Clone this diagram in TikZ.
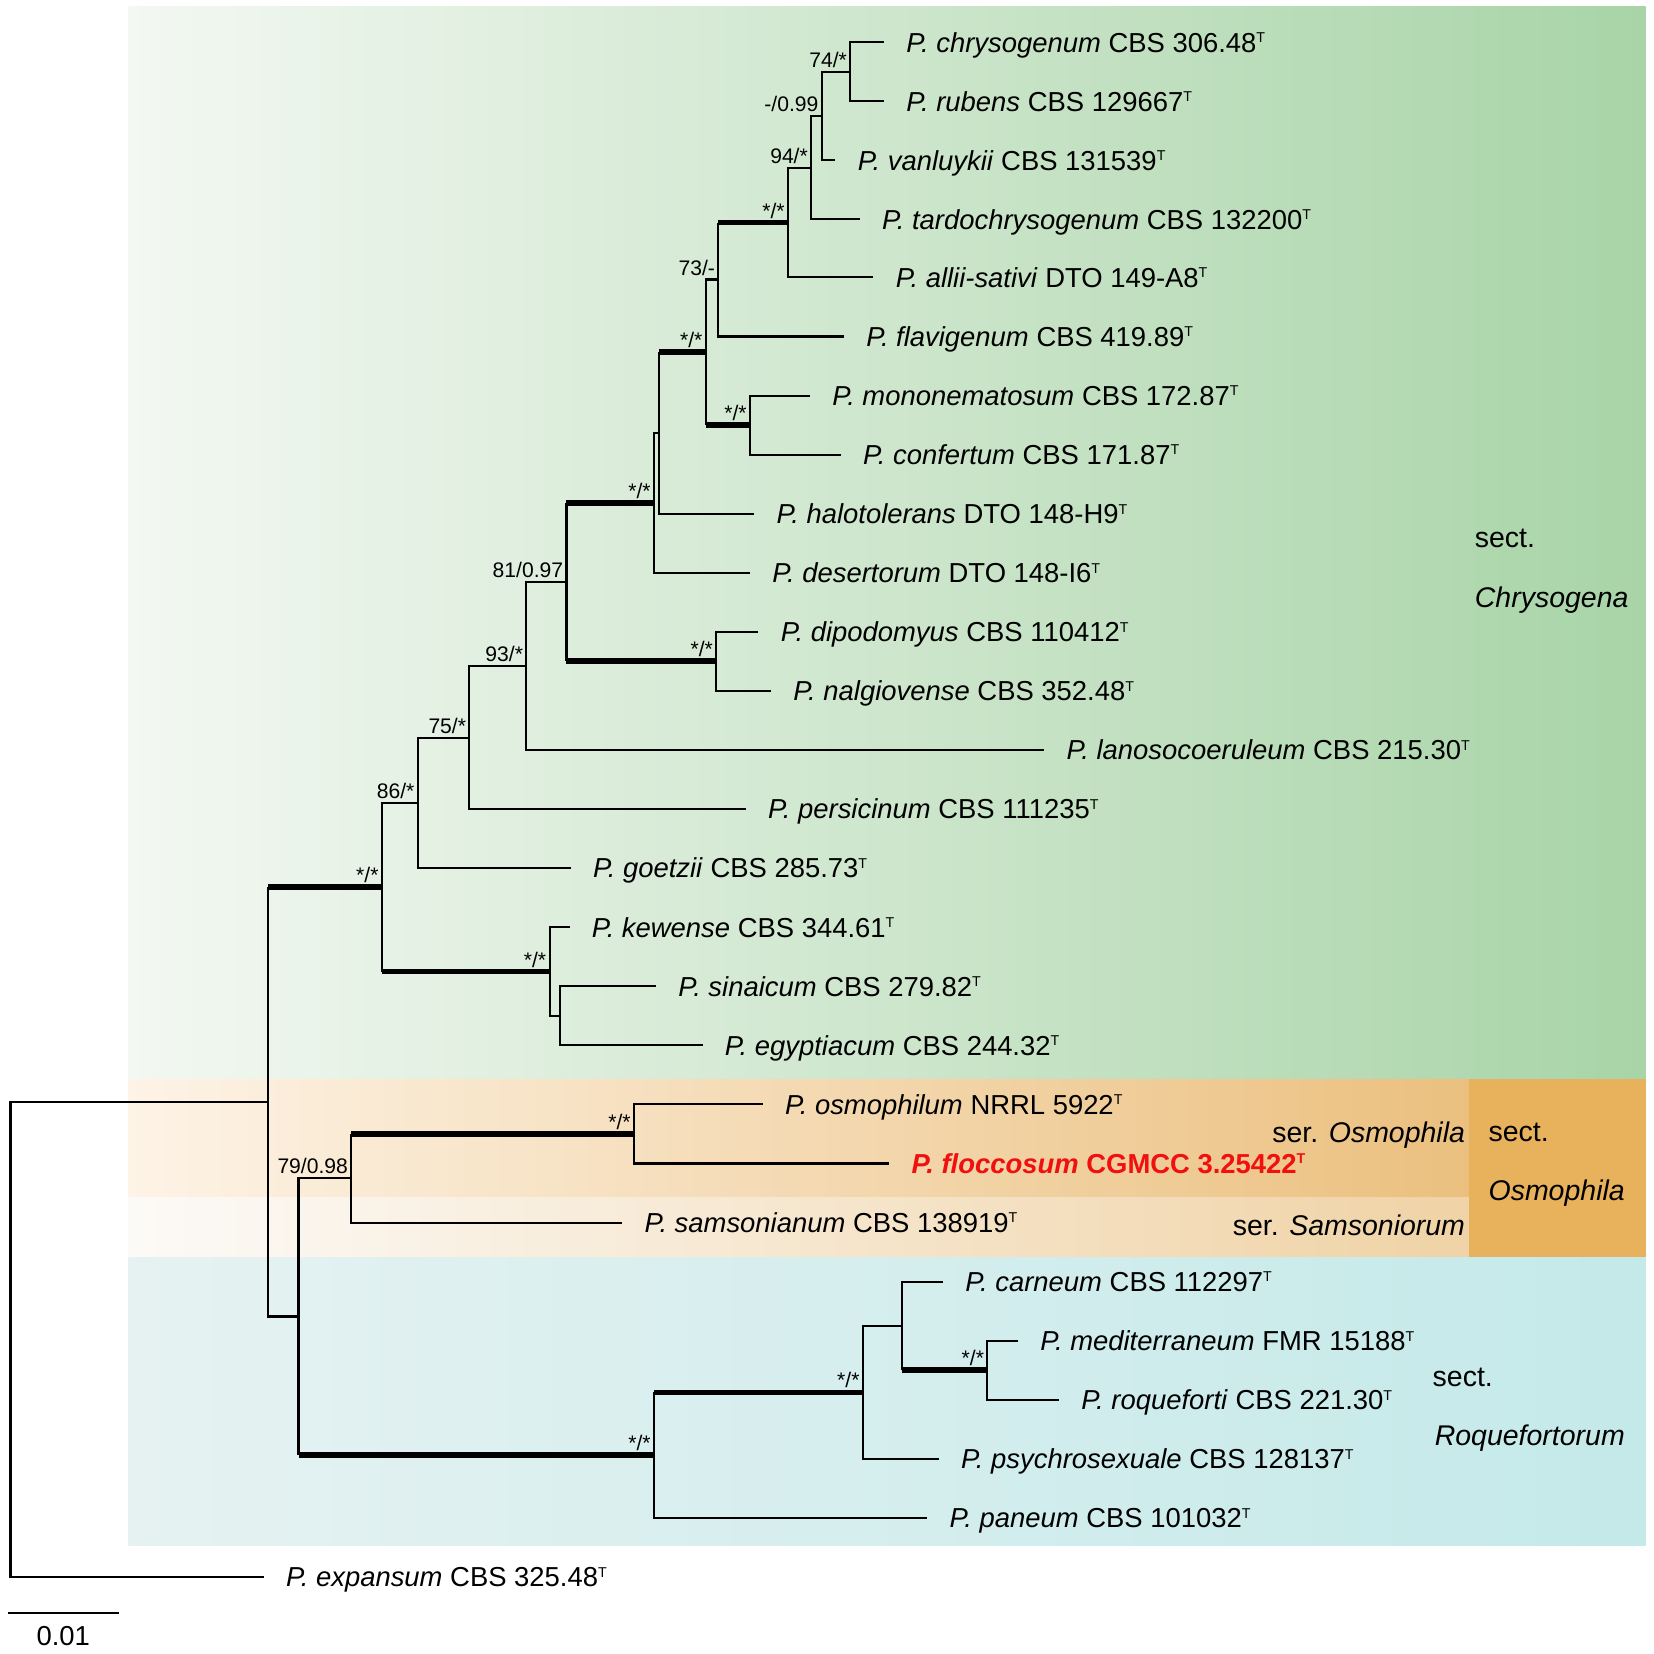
\documentclass[tikz,border=0pt]{standalone}
\usepackage{fontspec}
\setmainfont{Liberation Sans}
\usepackage{tikz}
\definecolor{chrysoL}{HTML}{F3F8F2}
\definecolor{chrysoR}{HTML}{A8D4A7}
\definecolor{osmoL}{HTML}{FDF3E6}
\definecolor{osmoR}{HTML}{EBC07F}
\definecolor{samsL}{HTML}{FCFAF7}
\definecolor{samsR}{HTML}{F0D3A6}
\definecolor{osmoSect}{HTML}{E8B25D}
\definecolor{roqL}{HTML}{E6F2F2}
\definecolor{roqR}{HTML}{C4E9E9}
\definecolor{newsp}{HTML}{F01010}
\tikzset{
% Branches: thin, and bold for the strongly supported ones
branch/.style={line width=2pt},
strong branch/.style={line width=5.5pt},
% Taxa at the tips, support values at the nodes, section names
leaf/.style={anchor=west,inner xsep=21pt,inner ysep=0pt,text height=18.6pt,text depth=0pt,font=\fontsize{26}{30}\selectfont},
support/.style={anchor=south east,inner xsep=3pt,inner ysep=4pt,text depth=0pt,font=\fontsize{20}{24}\selectfont},
section/.style={anchor=base west,inner sep=0pt,font=\fontsize{27}{32}\selectfont}
}
\newcommand{\typ}{\raisebox{9pt}{\fontsize{13.5}{13.5}\selectfont T}}
\newcommand{\taxon}[2]{\textit{P. #1} #2\typ}
\newcommand{\branchto}[2]{\draw[branch] (#1) |- (#2);}
\newcommand{\strongbranchto}[2]{\draw[branch] (#1) -- (#1 |- #2); \draw[strong branch] (#1 |- #2) -- (#2);}

\begin{document}
\begin{tikzpicture}[x=1pt,y=-1pt]
\useasboundingbox (0,0) rectangle (1568,1568);
% Sections
\shade[left color=chrysoL,right color=chrysoR] (122,6) rectangle (1560,1023);
\shade[left color=osmoL,right color=osmoR] (122,1023) rectangle (1393,1135);
\shade[left color=samsL,right color=samsR] (122,1135) rectangle (1393,1192);
\fill[osmoSect] (1393,1023) rectangle (1560,1192);
\shade[left color=roqL,right color=roqR] (122,1192) rectangle (1560,1465);
% Internal nodes
\coordinate (n74) at (806,68);
\coordinate (n099) at (779,110);
\coordinate (n94) at (769,159);
\coordinate (s1) at (747,211);
\coordinate (n73) at (681,265);
\coordinate (s3) at (711,403);
\coordinate (s2) at (669,334);
\coordinate (nA) at (625,410.5);
\coordinate (s4) at (620,476.8);
\coordinate (s5) at (679,627);
\coordinate (n81) at (537,551.9);
\coordinate (n93) at (499,631.4);
\coordinate (n75) at (445,699.2);
\coordinate (n86) at (396,761.1);
\coordinate (nB) at (531,963);
\coordinate (s7) at (521,921);
\coordinate (s6) at (362,841);
\coordinate (s9) at (601,1075);
\coordinate (n79) at (333,1117);
\coordinate (s11) at (936,1299);
\coordinate (nC) at (855,1257);
\coordinate (s10) at (818,1320);
\coordinate (s8) at (620,1379.5);
\coordinate (nR) at (283,1248);
\coordinate (nM) at (254,1044.6);
\coordinate (root) at (10,1270);
% Tips
\node[leaf] (chr) at (838,40) {\taxon{chrysogenum}{CBS 306.48}};
\node[leaf] (rub) at (838,96) {\taxon{rubens}{CBS 129667}};
\node[leaf] (van) at (792,152) {\taxon{vanluykii}{CBS 131539}};
\node[leaf] (tar) at (815,208) {\taxon{tardochrysogenum}{CBS 132200}};
\node[leaf] (all) at (828,263) {\taxon{allii-sativi}{DTO 149-A8}};
\node[leaf] (fla) at (800,319) {\taxon{flavigenum}{CBS 419.89}};
\node[leaf] (mon) at (768,375) {\taxon{mononematosum}{CBS 172.87}};
\node[leaf] (con) at (797,431) {\taxon{confertum}{CBS 171.87}};
\node[leaf] (hal) at (715,487) {\taxon{halotolerans}{DTO 148-H9}};
\node[leaf] (des) at (711,543) {\taxon{desertorum}{DTO 148-I6}};
\node[leaf] (dip) at (719,599) {\taxon{dipodomyus}{CBS 110412}};
\node[leaf] (nal) at (731,655) {\taxon{nalgiovense}{CBS 352.48}};
\node[leaf] (lan) at (990,711) {\taxon{lanosocoeruleum}{CBS 215.30}};
\node[leaf] (per) at (707,767) {\taxon{persicinum}{CBS 111235}};
\node[leaf] (goe) at (541,823) {\taxon{goetzii}{CBS 285.73}};
\node[leaf] (kew) at (540,879) {\taxon{kewense}{CBS 344.61}};
\node[leaf] (sin) at (622,935) {\taxon{sinaicum}{CBS 279.82}};
\node[leaf] (egy) at (666,991) {\taxon{egyptiacum}{CBS 244.32}};
\node[leaf] (osm) at (723,1047) {\taxon{osmophilum}{NRRL 5922}};
\node[leaf,text=newsp,font=\fontsize{26}{30}\selectfont\bfseries] (flo) at (843,1103) {\taxon{floccosum}{CGMCC 3.25422}};
\node[leaf] (sam) at (590,1159) {\taxon{samsonianum}{CBS 138919}};
\node[leaf] (car) at (894,1215) {\taxon{carneum}{CBS 112297}};
\node[leaf] (med) at (965,1271) {\taxon{mediterraneum}{FMR 15188}};
\node[leaf] (roq) at (1004,1327) {\taxon{roqueforti}{CBS 221.30}};
\node[leaf] (psy) at (890,1383) {\taxon{psychrosexuale}{CBS 128137}};
\node[leaf] (pan) at (879,1439) {\taxon{paneum}{CBS 101032}};
\node[leaf] (exp) at (250,1495) {\taxon{expansum}{CBS 325.48}};
% The tree
\branchto{n74}{chr} \branchto{n74}{rub}
\branchto{n099}{n74} \branchto{n099}{van}
\branchto{n94}{n099} \branchto{n94}{tar}
\branchto{s1}{n94} \branchto{s1}{all}
\strongbranchto{n73}{s1} \branchto{n73}{fla}
\branchto{s2}{n73} \strongbranchto{s2}{s3}
\branchto{s3}{mon} \branchto{s3}{con}
\strongbranchto{nA}{s2} \branchto{nA}{hal}
\branchto{s4}{nA} \branchto{s4}{des}
\branchto{s5}{dip} \branchto{s5}{nal}
\strongbranchto{n81}{s4} \strongbranchto{n81}{s5}
\branchto{n93}{n81} \branchto{n93}{lan}
\branchto{n75}{n93} \branchto{n75}{per}
\branchto{n86}{n75} \branchto{n86}{goe}
\branchto{s6}{n86} \strongbranchto{s6}{s7}
\branchto{s7}{kew} \branchto{s7}{nB}
\branchto{nB}{sin} \branchto{nB}{egy}
\strongbranchto{nM}{s6} \branchto{nM}{nR}
\branchto{nR}{n79} \strongbranchto{nR}{s8}
\strongbranchto{n79}{s9} \branchto{n79}{sam}
\branchto{s9}{osm} \branchto{s9}{flo}
\strongbranchto{s8}{s10} \branchto{s8}{pan}
\branchto{s10}{nC} \branchto{s10}{psy}
\branchto{nC}{car} \strongbranchto{nC}{s11}
\branchto{s11}{med} \branchto{s11}{roq}
\branchto{root}{nM} \branchto{root}{exp}
% Support values (ML bootstrap / posterior probability)
\node[support] (b74) at (n74) {74/*};
\node[support] (b099) at (n099) {-/0.99};
\node[support] (b94) at (n94) {94/*};
\node[support] (bs1) at (s1) {*/*};
\node[support] (b73) at (n73) {73/-};
\node[support] (bs2) at (s2) {*/*};
\node[support] (bs3) at (s3) {*/*};
\node[support] (bs4) at (s4) {*/*};
\node[support] (bs5) at (s5) {*/*};
\node[support] (b81) at (n81) {81/0.97};
\node[support] (b93) at (n93) {93/*};
\node[support] (b75) at (n75) {75/*};
\node[support] (b86) at (n86) {86/*};
\node[support] (bs6) at (s6) {*/*};
\node[support] (bs7) at (s7) {*/*};
\node[support] (b79) at (n79) {79/0.98};
\node[support] (bs9) at (s9) {*/*};
\node[support] (bs8) at (s8) {*/*};
\node[support] (bs10) at (s10) {*/*};
\node[support] (bs11) at (s11) {*/*};
% Section and series names
\node[section] (chs1) at (1398,519) {sect.};
\node[section] (chs2) at (1398,576) {\textit{Chrysogena}};
\node[section,anchor=base east] (ser1) at (1389,1083) {ser. \textit{Osmophila}};
\node[section,anchor=base east] (ser2) at (1389,1171) {ser. \textit{Samsoniorum}};
\node[section] (oss1) at (1411,1082) {sect.};
\node[section] (oss2) at (1411,1138) {\textit{Osmophila}};
\node[section] (rqs1) at (1358,1314) {sect.};
\node[section] (rqs2) at (1360,1370) {\textit{Roquefortorum}};
% Scale bar
\coordinate (sb0) at (8,1529);
\coordinate (sb1) at (113,1529);
\draw[branch] (sb0) -- (sb1);
\node[anchor=base,inner sep=0pt,font=\fontsize{26}{30}\selectfont] (sbl) at (60,1560) {0.01};
\end{tikzpicture}
\end{document}
